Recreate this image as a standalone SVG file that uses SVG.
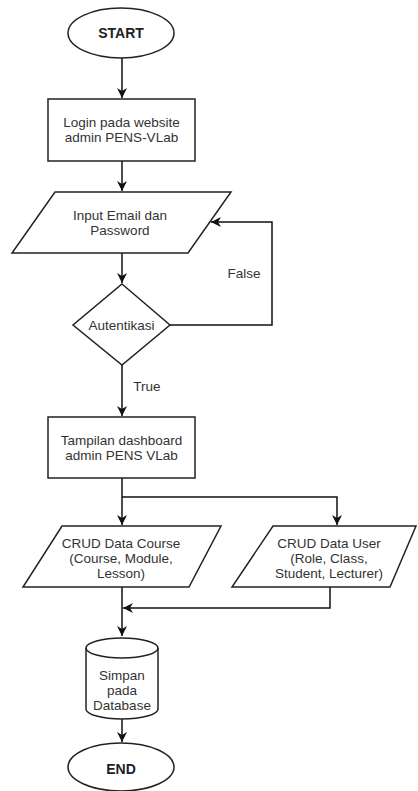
<svg xmlns="http://www.w3.org/2000/svg" width="418" height="791" viewBox="0 0 418 791">
<style>
.s{fill:#fff;stroke:#222;stroke-width:1.5}
.t{font-family:"Liberation Sans",Arial,sans-serif;font-size:13.5px;fill:#333;text-anchor:middle;dominant-baseline:central}
.b{font-weight:bold;fill:#222;font-size:14px}
.c{fill:none;stroke:#111;stroke-width:1.5}
</style>
<defs>
<marker id="a" viewBox="0 0 10 10" refX="10" refY="5" markerWidth="10" markerHeight="10" markerUnits="userSpaceOnUse" orient="auto">
<path d="M0,0 L10,5 L0,10 L3,5 Z" fill="#111"/>
</marker>
</defs>
<g id="connectors">
<path class="c" d="M122,58 V98" marker-end="url(#a)"/>
<path class="c" d="M122,161 V191" marker-end="url(#a)"/>
<path class="c" d="M122,253 V283" marker-end="url(#a)"/>
<path class="c" d="M170,325 H272 V222 H211" marker-end="url(#a)"/>
<path class="c" d="M122,365 V416" marker-end="url(#a)"/>
<path class="c" d="M122,478 V525" marker-end="url(#a)"/>
<path class="c" d="M122,497 H337 V525" marker-end="url(#a)"/>
<path class="c" d="M122,587 V636" marker-end="url(#a)"/>
<path class="c" d="M330,587 V608 H123" marker-end="url(#a)"/>
<path class="c" d="M122,719 V742" marker-end="url(#a)"/>
<text class="t" x="244" y="273">False</text>
<text class="t" x="147" y="386">True</text>
</g>
<g id="start">
<ellipse class="s" cx="121" cy="33" rx="53" ry="25"/>
<text class="t b" x="121" y="33">START</text>
</g>
<g id="login">
<rect class="s" x="48" y="99" width="147" height="62"/>
<text class="t" x="121.5" y="122.5">Login pada website</text>
<text class="t" x="121.5" y="137.5">admin PENS-VLab</text>
</g>
<g id="input">
<polygon class="s" points="55,192 231,192 188,253 12,253"/>
<text class="t" x="120" y="215">Input Email dan</text>
<text class="t" x="120" y="230">Password</text>
</g>
<g id="autentikasi">
<polygon class="s" points="122,284 170,325 122,365 73,325"/>
<text class="t" x="121.5" y="325">Autentikasi</text>
</g>
<g id="dashboard">
<rect class="s" x="48" y="417" width="147" height="61"/>
<text class="t" x="121.5" y="440.5">Tampilan dashboard</text>
<text class="t" x="121.5" y="455.5">admin PENS VLab</text>
</g>
<g id="crud-course">
<polygon class="s" points="62,526 221,526 189,587 23,587"/>
<text class="t" x="121" y="543">CRUD Data Course</text>
<text class="t" x="121" y="558">(Course, Module,</text>
<text class="t" x="121" y="573">Lesson)</text>
</g>
<g id="crud-user">
<polygon class="s" points="273,526 416,526 390,587 232,587"/>
<text class="t" x="329" y="543">CRUD Data User</text>
<text class="t" x="329" y="558">(Role, Class,</text>
<text class="t" x="329" y="573">Student, Lecturer)</text>
</g>
<g id="database">
<path class="s" d="M86,648 A36,10 0 0 1 158,648 V709 A36,10 0 0 1 86,709 Z"/>
<path class="c" style="stroke:#222" d="M86,648 A36,10 0 0 0 158,648"/>
<text class="t" x="122" y="675">Simpan</text>
<text class="t" x="122" y="690">pada</text>
<text class="t" x="122" y="705">Database</text>
</g>
<g id="end">
<ellipse class="s" cx="121" cy="767" rx="53" ry="24"/>
<text class="t b" x="121" y="769">END</text>
</g>
</svg>
